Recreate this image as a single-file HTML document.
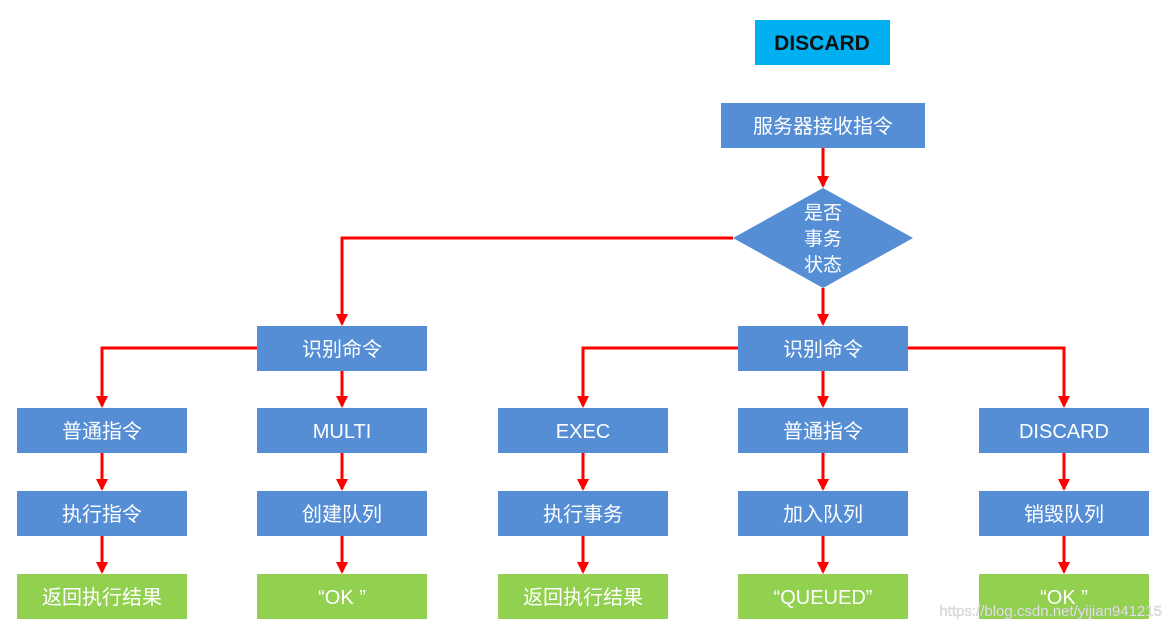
<!DOCTYPE html>
<html><head><meta charset="utf-8"><style>
html,body{margin:0;padding:0;background:#fff;}
svg text{font-family:"Liberation Sans","Noto Sans CJK SC",sans-serif;}
</style></head><body>
<svg width="1170" height="630" viewBox="0 0 1170 630" xmlns="http://www.w3.org/2000/svg">
<defs><marker id="a" markerWidth="10" markerHeight="10" refX="5" refY="9" orient="auto" markerUnits="userSpaceOnUse"><path d="M0,0 L10,0 L5,10 Z" fill="#ff0000" transform="rotate(-90 5 5)"/></marker></defs>
<g fill="none" stroke="#ff0000" stroke-width="3">
<path d="M823,148 V186"/>
<path d="M733,238 H342 V324"/>
<path d="M823,288 V324"/>
<path d="M257,348 H102 V406"/>
<path d="M342,371 V406"/>
<path d="M738,348 H583 V406"/>
<path d="M823,371 V406"/>
<path d="M908,348 H1064 V406"/>
<path d="M102,453 V489"/><path d="M342,453 V489"/><path d="M583,453 V489"/><path d="M823,453 V489"/><path d="M1064,453 V489"/>
<path d="M102,536 V572"/><path d="M342,536 V572"/><path d="M583,536 V572"/><path d="M823,536 V572"/><path d="M1064,536 V572"/>
</g>
<g fill="#ff0000">
<path d="M817,176 L829,176 L823,188 Z"/>
<path d="M336,314 L348,314 L342,326 Z"/>
<path d="M817,314 L829,314 L823,326 Z"/>
<g id="r1"><path d="M96,396 L108,396 L102,408 Z"/><path d="M336,396 L348,396 L342,408 Z"/><path d="M577,396 L589,396 L583,408 Z"/><path d="M817,396 L829,396 L823,408 Z"/><path d="M1058,396 L1070,396 L1064,408 Z"/></g>
<use href="#r1" y="83"/><use href="#r1" y="166"/>
</g>
<rect x="755" y="20" width="135" height="45" fill="#00b0f0"/>
<text x="822" y="50" text-anchor="middle" font-size="21" font-weight="bold" fill="#111">DISCARD</text>
<rect x="721" y="103" width="204" height="45" fill="#558ed5"/>
<text x="823" y="133" text-anchor="middle" font-size="20" fill="#fff">服务器接收指令</text>
<polygon points="823,188 913,238 823,288 733,238" fill="#558ed5"/>
<g font-size="19" fill="#fff" text-anchor="middle"><text x="823" y="219">是否</text><text x="823" y="245">事务</text><text x="823" y="271">状态</text></g>
<g fill="#558ed5">
<rect x="257" y="326" width="170" height="45"/><rect x="738" y="326" width="170" height="45"/>
<rect x="17" y="408" width="170" height="45"/><rect x="257" y="408" width="170" height="45"/><rect x="498" y="408" width="170" height="45"/><rect x="738" y="408" width="170" height="45"/><rect x="979" y="408" width="170" height="45"/>
<rect x="17" y="491" width="170" height="45"/><rect x="257" y="491" width="170" height="45"/><rect x="498" y="491" width="170" height="45"/><rect x="738" y="491" width="170" height="45"/><rect x="979" y="491" width="170" height="45"/>
</g>
<g fill="#92d050">
<rect x="17" y="574" width="170" height="45"/><rect x="257" y="574" width="170" height="45"/><rect x="498" y="574" width="170" height="45"/><rect x="738" y="574" width="170" height="45"/><rect x="979" y="574" width="170" height="45"/>
</g>
<g font-size="20" fill="#fff" text-anchor="middle">
<text x="342" y="356">识别命令</text><text x="823" y="356">识别命令</text>
<text x="102" y="438">普通指令</text><text x="342" y="438">MULTI</text><text x="583" y="438">EXEC</text><text x="823" y="438">普通指令</text><text x="1064" y="438">DISCARD</text>
<text x="102" y="521">执行指令</text><text x="342" y="521">创建队列</text><text x="583" y="521">执行事务</text><text x="823" y="521">加入队列</text><text x="1064" y="521">销毁队列</text>
<text x="102" y="604">返回执行结果</text><text x="342" y="604">“OK ”</text><text x="583" y="604">返回执行结果</text><text x="823" y="604">“QUEUED”</text><text x="1064" y="604">“OK ”</text>
</g>
<text x="1162" y="616" text-anchor="end" font-size="15" fill="#e8e8e8" stroke="#bbb" stroke-width="0.3">https://blog.csdn.net/yijian941215</text>
</svg>
</body></html>
